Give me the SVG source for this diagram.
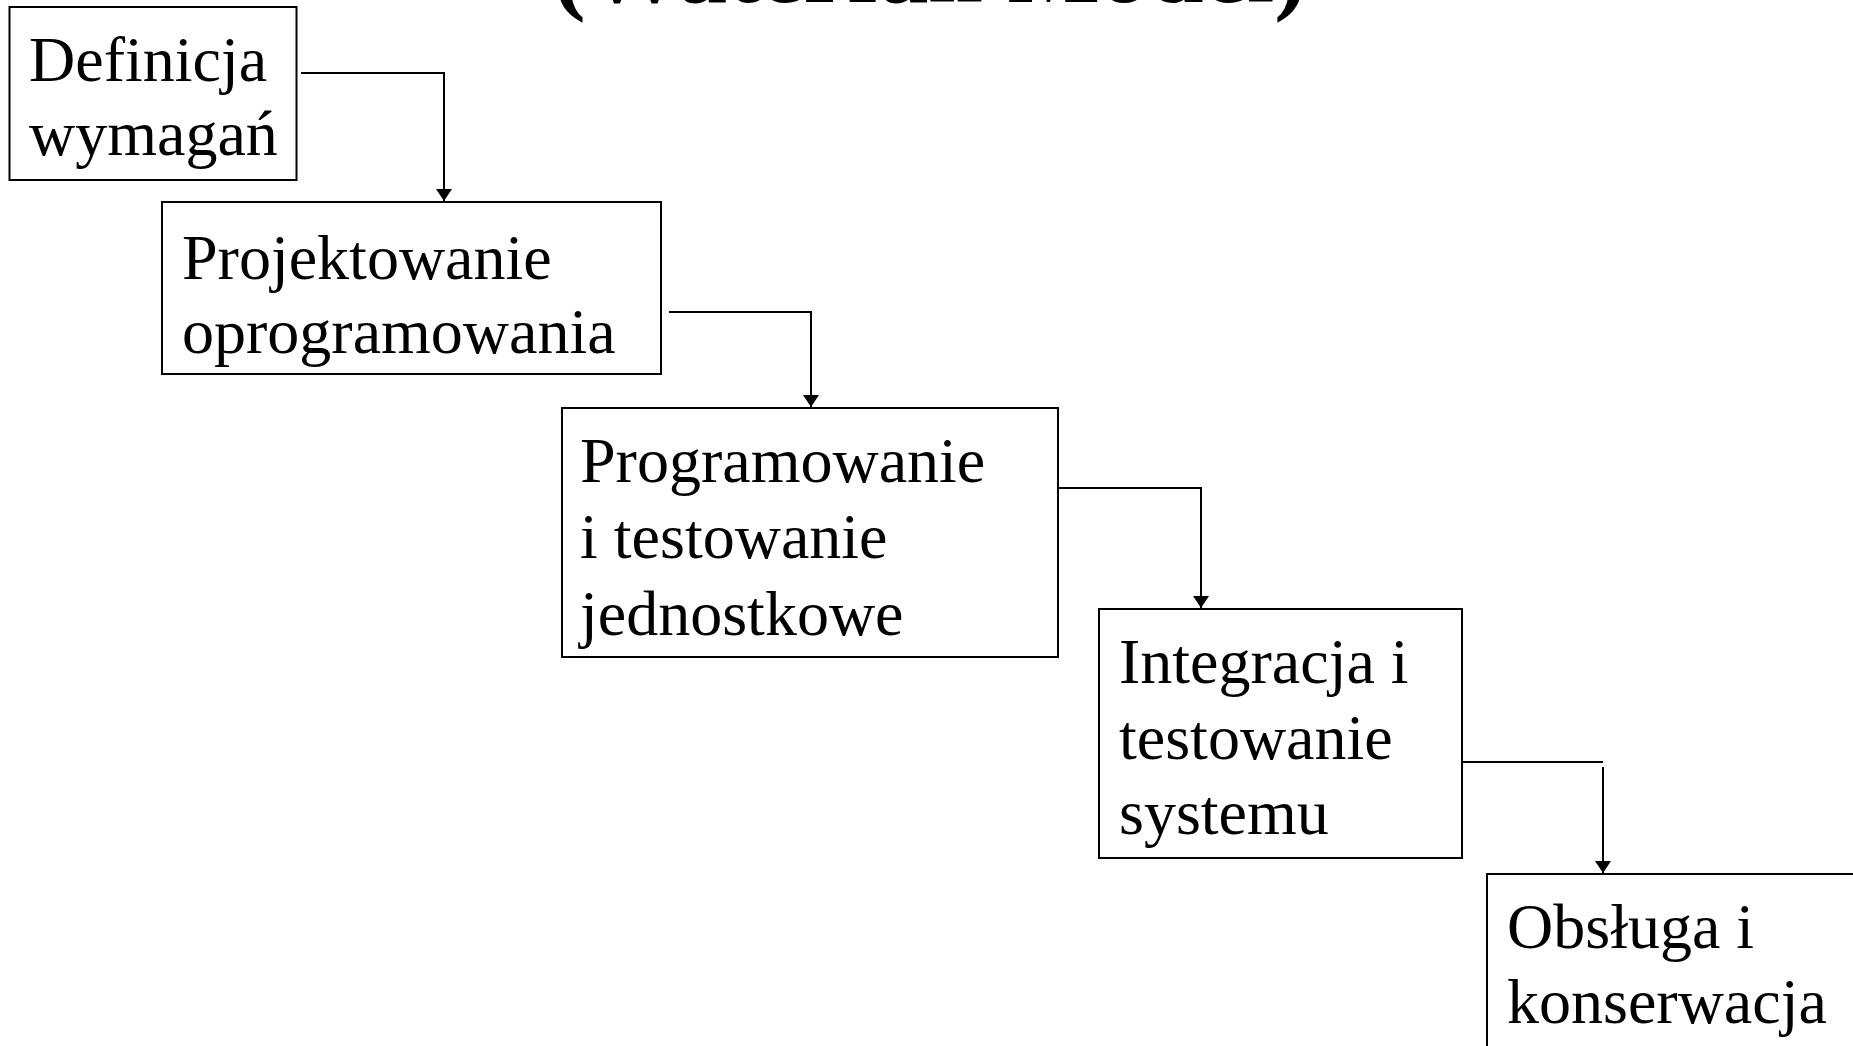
<svg xmlns="http://www.w3.org/2000/svg" width="1853" height="1046" viewBox="0 0 1853 1046">
<style>
.box{fill:#fff;stroke:#000;stroke-width:2}
.t{font-family:"Liberation Serif","Times New Roman",serif;font-size:64px;fill:#000}
.title{font-family:"Liberation Serif","Times New Roman",serif;font-size:98px;font-weight:bold;fill:#000}
.c{fill:none;stroke:#000;stroke-width:2}
</style>
<defs>
<marker id="arr" markerWidth="12" markerHeight="16" refX="12" refY="8" orient="auto" markerUnits="userSpaceOnUse" viewBox="0 0 12 16">
<path d="M0,0 L12,8 L0,16 Z" fill="#000"/>
</marker>
</defs>
<rect width="1853" height="1046" fill="#fff"/>
<text class="title" x="930" y="2" text-anchor="middle">(Waterfall Model)</text>
<g id="n1">
<rect class="box" x="9.5" y="7" width="287" height="173"/>
<text class="t" x="29" y="81">Definicja</text>
<text class="t" x="29" y="155">wymagań</text>
</g>
<g id="n2">
<rect class="box" x="162" y="202" width="499" height="172"/>
<text class="t" x="182" y="279">Projektowanie</text>
<text class="t" x="182" y="353">oprogramowania</text>
</g>
<g id="n3">
<rect class="box" x="562" y="408" width="496" height="249"/>
<text class="t" x="580" y="482">Programowanie</text>
<text class="t" x="580" y="558">i testowanie</text>
<text class="t" x="580" y="635">jednostkowe</text>
</g>
<g id="n4">
<rect class="box" x="1099" y="609" width="363" height="249"/>
<text class="t" x="1119" y="683">Integracja i</text>
<text class="t" x="1119" y="759">testowanie</text>
<text class="t" x="1119" y="834">systemu</text>
</g>
<g id="n5">
<rect class="box" x="1487" y="874" width="380" height="200"/>
<text class="t" x="1507" y="948">Obsługa i</text>
<text class="t" x="1507" y="1023">konserwacja</text>
</g>
<g id="connectors">
<path class="c" d="M301,73 H444 V201" marker-end="url(#arr)"/>
<path class="c" d="M669,312 H811 V407" marker-end="url(#arr)"/>
<path class="c" d="M1058,488 H1201 V608" marker-end="url(#arr)"/>
<path class="c" d="M1462,762 H1603"/>
<path class="c" d="M1603,767 V873" marker-end="url(#arr)"/>
</g>
</svg>
